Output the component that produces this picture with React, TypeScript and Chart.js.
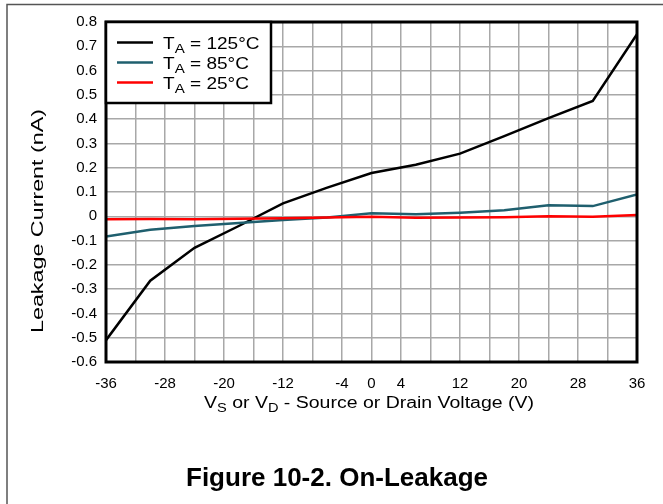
import React, { useEffect, useRef } from "react";
import { Chart, registerables } from "chart.js";

Chart.register(...registerables);

const voltages = [-36, -30, -24, -18, -12, -6, 0, 6, 12, 18, 24, 30, 36];
const leak125 = [-0.51, -0.265, -0.13, -0.04, 0.053, 0.118, 0.178, 0.212, 0.258, 0.33, 0.404, 0.475, 0.75];
const leak85 = [-0.083, -0.055, -0.04, -0.028, -0.015, -0.005, 0.012, 0.008, 0.015, 0.025, 0.045, 0.042, 0.09];
const leak25 = [-0.012, -0.011, -0.012, -0.01, -0.008, -0.005, -0.002, -0.006, -0.005, -0.004, 0.0, -0.002, 0.005];

const xGrid = [-36, -32, -28, -24, -20, -16, -12, -8, -4, 0, 4, 8, 12, 16, 20, 24, 28, 32, 36];
const xLabels = [-36, -28, -20, -12, -4, 0, 4, 12, 20, 28, 36];

const seriesNames = ["125°C", "85°C", "25°C"];
const seriesColors = ["#000000", "#1f5f6e", "#ff0000"];

const FONT = "Arial, 'Liberation Sans', sans-serif";

type Run = { t: string; sub?: boolean };

function runsWidth(ctx: CanvasRenderingContext2D, runs: Run[], size: number, subSize: number) {
  let w = 0;
  for (const r of runs) {
    ctx.font = `${r.sub ? subSize : size}px ${FONT}`;
    w += ctx.measureText(r.t).width;
  }
  return w;
}

function drawRuns(ctx: CanvasRenderingContext2D, runs: Run[], x: number, y: number, size: number, subSize: number, subShift: number, sx = 1) {
  ctx.save();
  ctx.translate(x, y);
  ctx.scale(sx, 1);
  ctx.textBaseline = "alphabetic";
  ctx.textAlign = "left";
  let cx = 0;
  for (const r of runs) {
    ctx.font = `${r.sub ? subSize : size}px ${FONT}`;
    ctx.fillText(r.t, cx, r.sub ? subShift : 0);
    cx += ctx.measureText(r.t).width;
  }
  ctx.restore();
}

const decor = {
  id: "decor",
  afterDraw(chart: any) {
    const ctx: CanvasRenderingContext2D = chart.ctx;
    const a = chart.chartArea;
    ctx.save();
    // outer partial frame
    ctx.strokeStyle = "#555";
    ctx.lineWidth = 1.5;
    ctx.beginPath();
    ctx.moveTo(7, 504);
    ctx.lineTo(7, 4.5);
    ctx.lineTo(663, 4.5);
    ctx.stroke();

    // plot border
    ctx.strokeStyle = "#000";
    ctx.lineWidth = 3;
    ctx.strokeRect(a.left, a.top, a.right - a.left, a.bottom - a.top);

    // legend box
    const lx = a.left, ly = a.top, lw = 165, lh = 81;
    ctx.fillStyle = "#fff";
    ctx.fillRect(lx, ly, lw, lh);
    ctx.lineWidth = 2.5;
    ctx.strokeRect(lx, ly, lw, lh);
    for (let i = 0; i < seriesNames.length; i++) {
      const yy = ly + 20.5 + i * 20;
      ctx.strokeStyle = seriesColors[i];
      ctx.lineWidth = 2.5;
      ctx.beginPath();
      ctx.moveTo(lx + 11, yy);
      ctx.lineTo(lx + 47, yy);
      ctx.stroke();
      ctx.fillStyle = "#000";
      drawRuns(ctx, [{ t: "T" }, { t: "A", sub: true }, { t: " = " + seriesNames[i] }], lx + 57, yy + 6, 17, 13.5, 4, 1.12);
    }

    // x axis title
    ctx.fillStyle = "#000";
    const xt: Run[] = [
      { t: "V" }, { t: "S", sub: true }, { t: " or V" }, { t: "D", sub: true },
      { t: " - Source or Drain Voltage (V)" },
    ];
    const xw = runsWidth(ctx, xt, 16, 12);
    const xTarget = 330;
    drawRuns(ctx, xt, 369 - xTarget / 2, 408, 16, 12, 3.5, xTarget / xw);

    // y axis title
    ctx.save();
    ctx.translate(43, 221);
    ctx.rotate(-Math.PI / 2);
    ctx.font = `16px ${FONT}`;
    const yTitle = "Leakage Current (nA)";
    const yw = ctx.measureText(yTitle).width;
    ctx.scale(224 / yw, 1);
    ctx.textAlign = "center";
    ctx.textBaseline = "alphabetic";
    ctx.fillText(yTitle, 0, 0);
    ctx.restore();

    // figure title
    ctx.font = `bold 26px ${FONT}`;
    ctx.textAlign = "center";
    ctx.textBaseline = "alphabetic";
    ctx.fillText("Figure 10-2. On-Leakage", 337, 486);
    ctx.restore();
  },
};

export default function App() {
  const ref = useRef<HTMLCanvasElement | null>(null);
  useEffect(() => {
    if (!ref.current) return;
    const mk = (i: number, data: number[]) => ({
      label: "TA = " + seriesNames[i],
      data: voltages.map((v, k) => ({ x: v, y: data[k] })),
      borderColor: seriesColors[i],
      backgroundColor: seriesColors[i],
      borderWidth: 2.5,
      pointRadius: 0,
      tension: 0,
      fill: false,
    });
    const chart = new Chart(ref.current, {
      type: "line",
      data: {
        datasets: [mk(2, leak25), mk(1, leak85), mk(0, leak125)],
      },
      options: {
        animation: false,
        responsive: false,
        devicePixelRatio: 1,
        layout: { padding: { top: 22, right: 26, left: 0, bottom: 0 } },
        plugins: { legend: { display: false }, tooltip: { enabled: false }, title: { display: false } },
        scales: {
          x: {
            type: "linear",
            min: -36,
            max: 36,
            afterBuildTicks: (s: any) => {
              s.ticks = xGrid.map((v) => ({ value: v }));
            },
            afterFit: (s: any) => {
              s.height = 142;
            },
            ticks: {
              autoSkip: false,
              maxRotation: 0,
              padding: 13,
              color: "#000",
              font: { family: FONT, size: 15 },
              callback: (v: any) => (xLabels.includes(Number(v)) ? String(v) : ""),
            },
            grid: { color: "#a8a8a8", lineWidth: 1.5, drawTicks: false },
            border: { display: false },
          },
          y: {
            type: "linear",
            min: -0.6,
            max: 0.8,
            afterFit: (s: any) => {
              s.width = 106;
            },
            ticks: {
              stepSize: 0.1,
              padding: 9,
              color: "#000",
              font: { family: FONT, size: 15 },
              callback: (v: any) => String(Math.round(Number(v) * 10) / 10),
            },
            grid: { color: "#a8a8a8", lineWidth: 1.5, drawTicks: false },
            border: { display: false },
          },
        },
      },
      plugins: [decor],
    } as any);
    return () => chart.destroy();
  }, []);
  return (
    <div style={{ position: "absolute", left: 0, top: 0, width: 663, height: 504, background: "#fff" }}>
      <canvas ref={ref} width={663} height={504} style={{ display: "block" }} />
    </div>
  );
}
